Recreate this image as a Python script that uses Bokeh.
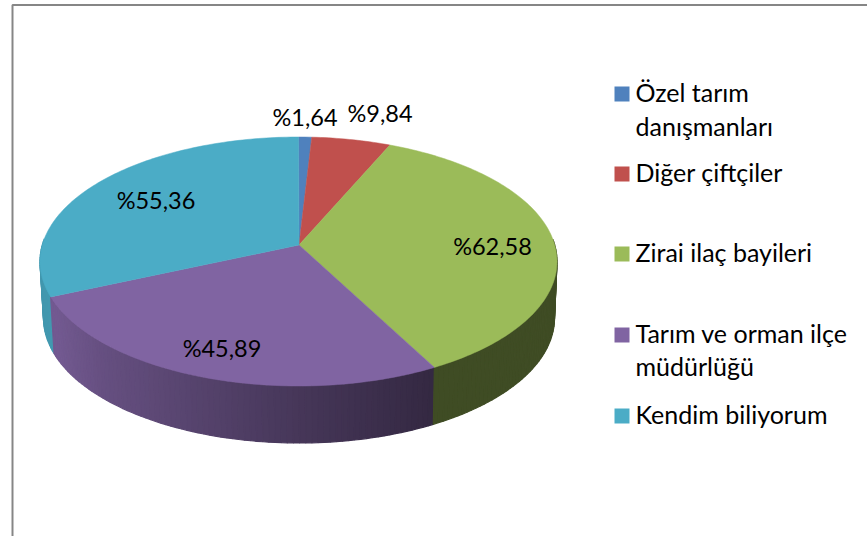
import numpy as np
from bokeh.plotting import figure
from bokeh.models import Range1d
from bokeh.core.properties import value
from bokeh.embed import file_html
from bokeh.resources import INLINE

categories = ["Özel tarım danışmanları", "Diğer çiftçiler", "Zirai ilaç bayileri",
              "Tarım ve orman ilçe müdürlüğü", "Kendim biliyorum"]
values = [1.64, 9.84, 62.58, 45.89, 55.36]
labels = ["%1,64", "%9,84", "%62,58", "%45,89", "%55,36"]
colors = ["#4f81bd", "#c0504d", "#9bbb59", "#8064a2", "#4bacc6"]
legend_lines = [["Özel tarım", "danışmanları"], ["Diğer çiftçiler"], ["Zirai ilaç bayileri"],
                ["Tarım ve orman ilçe", "müdürlüğü"], ["Kendim biliyorum"]]

FONT = "Lato"

p = figure(width=867, height=536, output_backend="svg", toolbar_location=None,
           x_range=Range1d(0, 867), y_range=Range1d(536, 0),
           min_border=0, margin=0)
p.axis.visible = False
p.grid.visible = False
p.outline_line_color = None
p.background_fill_color = "#ffffff"
p.border_fill_color = "#ffffff"

# frame of the chart area
p.line([12, 12, 867], [536, 4.5, 4.5], line_color="#868686", line_width=2)

# perspective projection of the pie
TOP = (298.0, 261.0, 258.5, 124.5)
BOT = (298.5, 317.5, 255.5, 125.0)
E = 16.5 / 124.5


def project(alpha, ell):
    cx, cy, rx, ry = ell
    s, c = np.sin(alpha), np.cos(alpha)
    d = 1 + E * c
    return cx + rx * np.sqrt(1 - E * E) * s / d, cy - ry * (c + E) / d


def shade(hex_color, x):
    f = float(np.interp(x, [40, 55, 100, 200, 300, 433, 560],
                        [0.88, 0.90, 0.80, 0.67, 0.55, 0.41, 0.41]))
    r, g, b = (int(hex_color[i:i + 2], 16) for i in (1, 3, 5))
    return "#%02x%02x%02x" % (int(r * f), int(g * f), int(b * f))


total = sum(values)
edges = np.concatenate([[0], np.cumsum(values)]) / total * 2 * np.pi
apex = (298.5, 244.5)

# side wall: painted left to right so each strip overlaps the previous one
strips = []
for i, col in enumerate(colors):
    a0, a1 = edges[i], edges[i + 1]
    n = max(2, int((a1 - a0) / np.radians(1.2)))
    ts = np.linspace(a0, a1, n + 1)
    for t0, t1 in zip(ts[:-1], ts[1:]):
        x0, y0 = project(t0, TOP)
        x1, y1 = project(t1, TOP)
        x2, y2 = project(t1, BOT)
        x3, y3 = project(t0, BOT)
        if max(y0, y1) < 240:
            continue
        c = shade(col, (x0 + x1) / 2)
        strips.append(((x0 + x1) / 2, [x0, x1, x2, x3], [y0, y1, y2, y3], c))
strips.sort(key=lambda s: s[0])
p.patches([s[1] for s in strips], [s[2] for s in strips],
          fill_color=[s[3] for s in strips], line_color=[s[3] for s in strips], line_width=1.2)

# top face
for i, col in enumerate(colors):
    ts = np.linspace(edges[i], edges[i + 1], max(3, int((edges[i + 1] - edges[i]) / np.radians(1))))
    xs, ys = project(ts, TOP)
    p.patch(np.r_[apex[0], xs], np.r_[apex[1], ys], fill_color=col, line_color=col, line_width=0.5)

# value labels
lab_x = [304.5, 379.5, 492, 221.5, 155.5]
lab_y = [116.5, 112.5, 245.5, 347.5, 199.5]
p.text(lab_x, lab_y, text=labels, text_font=value(FONT), text_font_size="23.5px",
       text_color="#000000", text_align="center", text_baseline="middle")

# legend
key_y = [93.5, 173.5, 253.5, 334.5, 415.5]
line_y = [[91.5, 125.5], [171.5], [251.5], [332.5, 365.5], [413.5]]
p.rect([621.5] * 5, key_y, width=15, height=15, fill_color=colors, line_color=None)
for lines, ys in zip(legend_lines, line_y):
    p.text([635] * len(lines), ys, text=lines, text_font=value(FONT), text_font_size="25px",
           text_color="#000000", text_align="left", text_baseline="middle")

open("out.html", "w").write(file_html(p, INLINE))
